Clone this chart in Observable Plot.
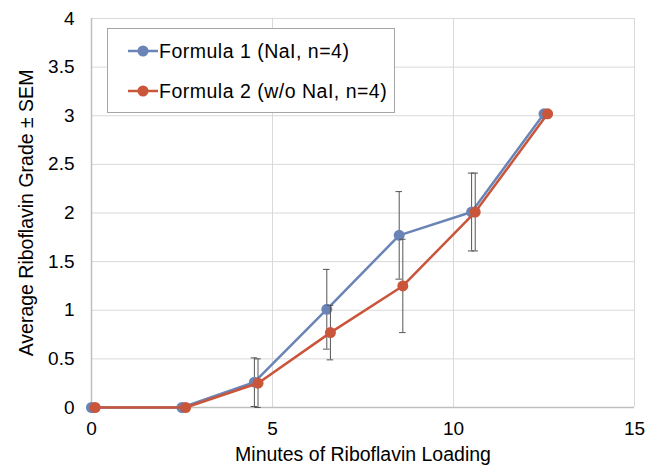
<!DOCTYPE html>
<html>
<head>
<meta charset="utf-8">
<script src="https://cdn.jsdelivr.net/npm/d3@7"></script>
<script src="https://cdn.jsdelivr.net/npm/@observablehq/plot@0.6"></script>
<style>
  html, body { margin: 0; padding: 0; background: #fff; }
  #wrap { position: relative; width: 653px; height: 466px; font-family: "Liberation Sans", Arial, sans-serif; }
  #legend { position: absolute; left: 107px; top: 28px; width: 288px; height: 85px; box-sizing: border-box;
            border: 1px solid #a6a6a6; background: #fff; font-size: 19.5px; letter-spacing: 0.5px; color: #000; }
  .entry { position: absolute; left: 20px; height: 22px; display: flex; align-items: center; white-space: nowrap; }
  .entry svg { margin-right: 1px; }
</style>
</head>
<body>
<div id="wrap"></div>
<script>
const seriesNames = ["Formula 1 (NaI, n=4)", "Formula 2 (w/o NaI, n=4)"];
const seriesColors = ["#6a84b6", "#c9553a"];
const minutes1 = [0, 2.5, 4.5, 6.5, 8.5, 10.5, 12.5];
const minutes2 = [0.1, 2.6, 4.6, 6.6, 8.6, 10.6, 12.6];
const mean1 = [0, 0, 0.26, 1.01, 1.77, 2.01, 3.02];
const sem1 = [0, 0, 0.25, 0.41, 0.45, 0.40, 0];
const mean2 = [0, 0, 0.25, 0.77, 1.25, 2.01, 3.02];
const sem2 = [0, 0, 0.25, 0.28, 0.48, 0.40, 0];
const xTicks = [0, 5, 10, 15];
const yTicks = [0, 0.5, 1, 1.5, 2, 2.5, 3, 3.5, 4];
const xLabel = "Minutes of Riboflavin Loading";
const yLabel = "Average Riboflavin Grade ± SEM";

const s1 = minutes1.map((m, i) => ({series: seriesNames[0], x: m, y: mean1[i], sem: sem1[i]}));
const s2 = minutes2.map((m, i) => ({series: seriesNames[1], x: m, y: mean2[i], sem: sem2[i]}));

function seriesMarks(data, color) {
  const bars = data.filter(d => d.sem > 0);
  return [
    Plot.line(data, {x: "x", y: "y", stroke: color, strokeWidth: 2.5}),
    Plot.ruleX(bars, {x: "x", y1: d => d.y - d.sem, y2: d => d.y + d.sem, stroke: "#555", strokeWidth: 1}),
    Plot.ruleY(bars, {y: d => d.y - d.sem, x1: d => d.x - 0.09, x2: d => d.x + 0.09, stroke: "#555", strokeWidth: 1}),
    Plot.ruleY(bars, {y: d => d.y + d.sem, x1: d => d.x - 0.09, x2: d => d.x + 0.09, stroke: "#555", strokeWidth: 1}),
    Plot.dot(data, {x: "x", y: "y", r: 5.5, fill: color, stroke: "none"})
  ];
}

const chart = Plot.plot({
  width: 653,
  height: 466,
  marginLeft: 91,
  marginRight: 19,
  marginTop: 18,
  marginBottom: 59,
  style: {fontFamily: "'Liberation Sans', Arial, sans-serif", fontSize: "19px", color: "#000", background: "#fff"},
  x: {domain: [0, 15]},
  y: {domain: [0, 4]},
  marks: [
    Plot.gridX({ticks: xTicks, stroke: "#d9d9d9", strokeOpacity: 1, strokeWidth: 1}),
    Plot.gridY({ticks: yTicks, stroke: "#d9d9d9", strokeOpacity: 1, strokeWidth: 1}),
    Plot.ruleX([0], {stroke: "#bfbfbf", strokeWidth: 1.5}),
    Plot.ruleY([0], {stroke: "#bfbfbf", strokeWidth: 1.5}),
    Plot.axisX({ticks: xTicks, tickSize: 0, tickPadding: 14, tickFormat: d => String(d), label: null, fontSize: 19}),
    Plot.axisY({ticks: yTicks, tickSize: 0, tickPadding: 17, tickFormat: d => String(d), label: null, fontSize: 19}),
    Plot.text([xLabel], {frameAnchor: "bottom", dy: 53, fontSize: 19.5, fill: "#000", textAnchor: "middle"}),
    Plot.text([yLabel], {frameAnchor: "left", dx: -65, rotate: -90, fontSize: 19.5, fill: "#000", textAnchor: "middle"}),
    ...seriesMarks(s1, seriesColors[0]),
    ...seriesMarks(s2, seriesColors[1])
  ]
});

const wrap = document.getElementById("wrap");
wrap.appendChild(chart);

const legend = document.createElement("div");
legend.id = "legend";
const tops = [11, 51];
seriesNames.forEach((name, i) => {
  const e = document.createElement("div");
  e.className = "entry";
  e.style.top = tops[i] + "px";
  e.innerHTML = `<svg width="30" height="14"><line x1="0" y1="7" x2="30" y2="7" stroke="${seriesColors[i]}" stroke-width="2.5"/><circle cx="15" cy="7" r="5.5" fill="${seriesColors[i]}"/></svg><span>${name}</span>`;
  legend.appendChild(e);
});
wrap.appendChild(legend);
</script>
</body>
</html>
